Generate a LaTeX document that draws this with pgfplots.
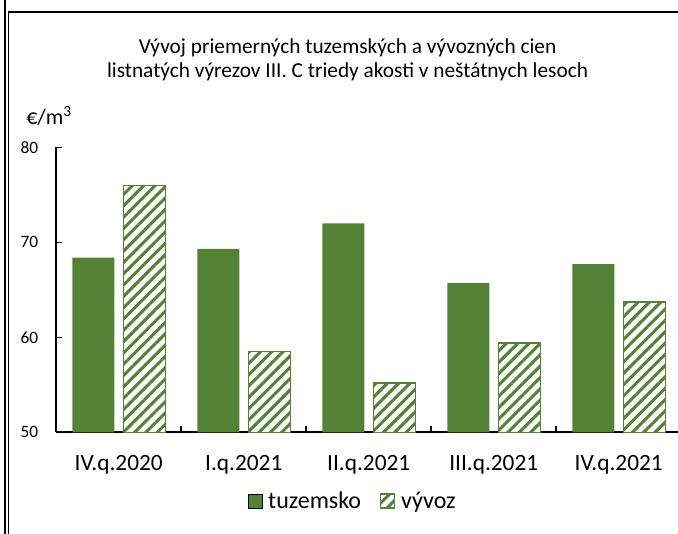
\documentclass[border=0pt]{standalone}
\usepackage{pgfplots}
\pgfplotsset{compat=1.18}
\usepackage{fontspec}
\setmainfont{Carlito}
\usetikzlibrary{patterns.meta}
\definecolor{xgreen}{RGB}{84,130,53}
\begin{document}
\begin{tikzpicture}[x=0.75pt,y=0.75pt]
\useasboundingbox (0,0) rectangle (678,533);
% frame remnants
\draw[line width=1.2pt] (5,540) -- (5,-5);
\draw[line width=1.2pt] (8.5,-5) -- (8.5,521) -- (690,521);
% titles
\node[anchor=base, font=\fontsize{16pt}{19pt}\selectfont] at (347.5,479) {Vývoj priemerných tuzemských a vývozných cien};
\node[anchor=base, font=\fontsize{16pt}{19pt}\selectfont] at (347.5,455) {listnatých výrezov III. C triedy akosti v neštátnych lesoch};
\node[anchor=base west, inner sep=0pt, font=\fontsize{16.5pt}{19pt}\selectfont] at (26,408) {€/m\textsuperscript{3}};
\begin{axis}[
  at={(45,106)}, anchor=south west,
  scale only axis, width=468.75pt, height=213.75pt,
  xmin=-0.5, xmax=4.5, ymin=50, ymax=80,
  axis x line*=bottom, axis y line*=left,
  axis line style={line width=1.5pt, black, -},
  ybar,
  ytick={50,60,70,80},
  xtick={0.5,1.5,2.5,3.5}, xticklabels={},
  extra x ticks={0,1,2,3,4},
  extra x tick labels={IV.q.2020,I.q.2021,II.q.2021,III.q.2021,IV.q.2021},
  extra x tick style={tick style={draw=none}},
  tick align=inside, major tick length=4.5pt,
  tick style={line width=1.2pt, black},
  /pgf/number format/assume math mode=true,
  yticklabel style={font=\fontsize{13pt}{15pt}\selectfont, xshift=-10pt},
  xticklabel style={font=\fontsize{17.5pt}{20pt}\selectfont, yshift=-14pt},
  legend style={draw=none, at={(0.475,-0.242)}, anchor=center,
    font=\fontsize{18pt}{20pt}\selectfont, legend columns=2,
    /tikz/every even column/.append style={column sep=12pt}},
  legend image code/.code={\draw[#1] (0pt,-5pt) rectangle (10.5pt,5.5pt); \path (13pt,0pt);},
]
\addplot[fill=xgreen, draw=none, bar width=0.336, bar shift=-0.204]
  coordinates {(0,68.4) (1,69.3) (2,72.0) (3,65.7) (4,67.7)};
\addlegendentry{tuzemsko}
\addplot[draw=xgreen, line width=1.1pt, fill=white,
  postaction={pattern={Lines[angle=45,distance=6pt,line width=2.3pt]}, pattern color=xgreen},
  bar width=0.336, bar shift=0.204]
  coordinates {(0,76.0) (1,58.5) (2,55.2) (3,59.4) (4,63.7)};
\addlegendentry{vývoz}
\end{axis}
\end{tikzpicture}
\end{document}
